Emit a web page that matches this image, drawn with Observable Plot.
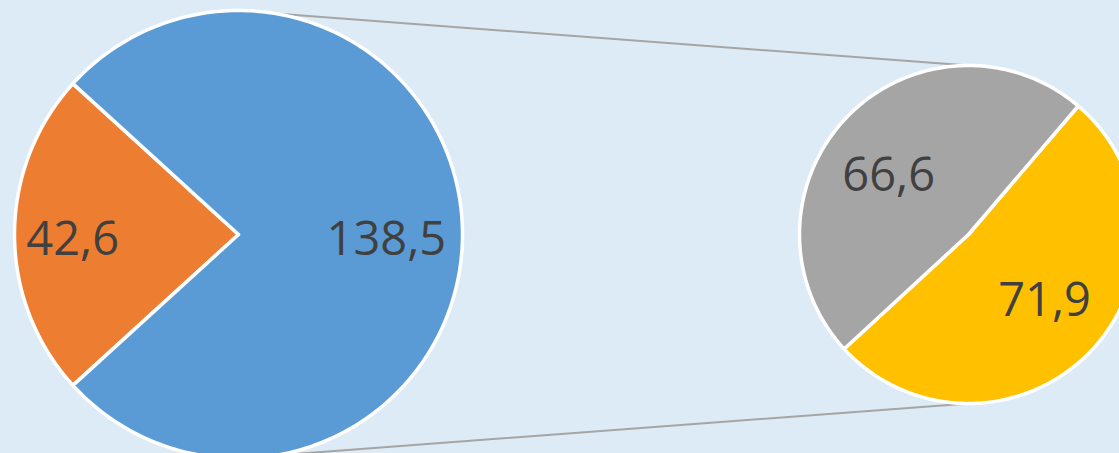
<!DOCTYPE html>
<html><head><meta charset="utf-8">
<script src="https://cdn.jsdelivr.net/npm/d3@7"></script>
<script src="https://cdn.jsdelivr.net/npm/@observablehq/plot@0.6"></script>
<style>html,body{margin:0;padding:0;background:#DDEBF7;overflow:hidden;}</style>
</head><body><div id="chart"></div>
<script>
// Primary pie
const primaryCategories = ["Teil A", "Teil B"];
const primaryValues = [42.6, 138.5];
// Secondary pie (breakdown of Teil B)
const secondaryCategories = ["Teil B1", "Teil B2"];
const secondaryValues = [71.9, 66.6];

const colors = {"Teil A": "#ED7D31", "Teil B": "#5B9BD5", "Teil B1": "#FFC000", "Teil B2": "#A5A5A5"};

const W = 1119, H = 453;
const deg = Math.PI / 180;
// label placement: radius fraction and angular offset (degrees) per slice
const pies = [
  {cats: primaryCategories, vals: primaryValues, cx: 238, cy: 234, r: 224, start: 227.65 * deg, labelR: [0.74, 0.66], labelDa: [0, 0]},
  {cats: secondaryCategories, vals: secondaryValues, cx: 968, cy: 234, r: 169, start: 40.5 * deg, labelR: [0.58, 0.605], labelDa: [-4.8, -5.2]}
];

function pt(p, a, r) { return {x: p.cx + r * Math.sin(a), y: p.cy - r * Math.cos(a)}; }

const slices = [], labels = [];
pies.forEach(p => {
  const arcs = d3.pie().sort(null).startAngle(p.start).endAngle(p.start + 2 * Math.PI)(p.vals);
  arcs.forEach((a, i) => {
    const key = p.cats[i];
    const n = Math.max(8, Math.ceil((a.endAngle - a.startAngle) / deg));
    const c = {x: p.cx, y: p.cy, key};
    slices.push(c);
    for (let k = 0; k <= n; k++) {
      const ang = a.startAngle + (a.endAngle - a.startAngle) * k / n;
      slices.push({...pt(p, ang, p.r), key});
    }
    slices.push({...c});
    const mid = (a.startAngle + a.endAngle) / 2 + p.labelDa[i] * deg;
    labels.push({...pt(p, mid, p.r * p.labelR[i]), text: p.vals[i].toFixed(1).replace(".", ",")});
  });
});

// connector lines from primary pie to secondary pie
const P = pies[0], S = pies[1];
const connectors = [
  {...pt(P, 9.5 * deg, P.r), g: 0}, {...pt(S, 0, S.r), g: 0},
  {...pt(P, 170.5 * deg, P.r), g: 1}, {...pt(S, Math.PI, S.r), g: 1}
];

const chart = Plot.plot({
  width: W, height: H,
  margin: 0,
  style: {background: "#DDEBF7", overflow: "hidden"},
  x: {domain: [0, W], range: [0, W], axis: null},
  y: {domain: [0, H], range: [0, H], axis: null},
  color: {domain: Object.keys(colors), range: Object.values(colors)},
  marks: [
    Plot.line(connectors, {x: "x", y: "y", z: "g", stroke: "#A5A5A5", strokeWidth: 2}),
    Plot.line(slices, {x: "x", y: "y", z: "key", fill: "key", stroke: "white", strokeWidth: 3.5, strokeLinejoin: "round", curve: "linear"}),
    Plot.text(labels, {x: "x", y: "y", text: "text", dy: 5, fill: "#404040", fontSize: 47, fontFamily: "Open Sans", textAnchor: "middle", lineAnchor: "middle"})
  ]
});
document.getElementById("chart").appendChild(chart);
</script>
</body></html>
